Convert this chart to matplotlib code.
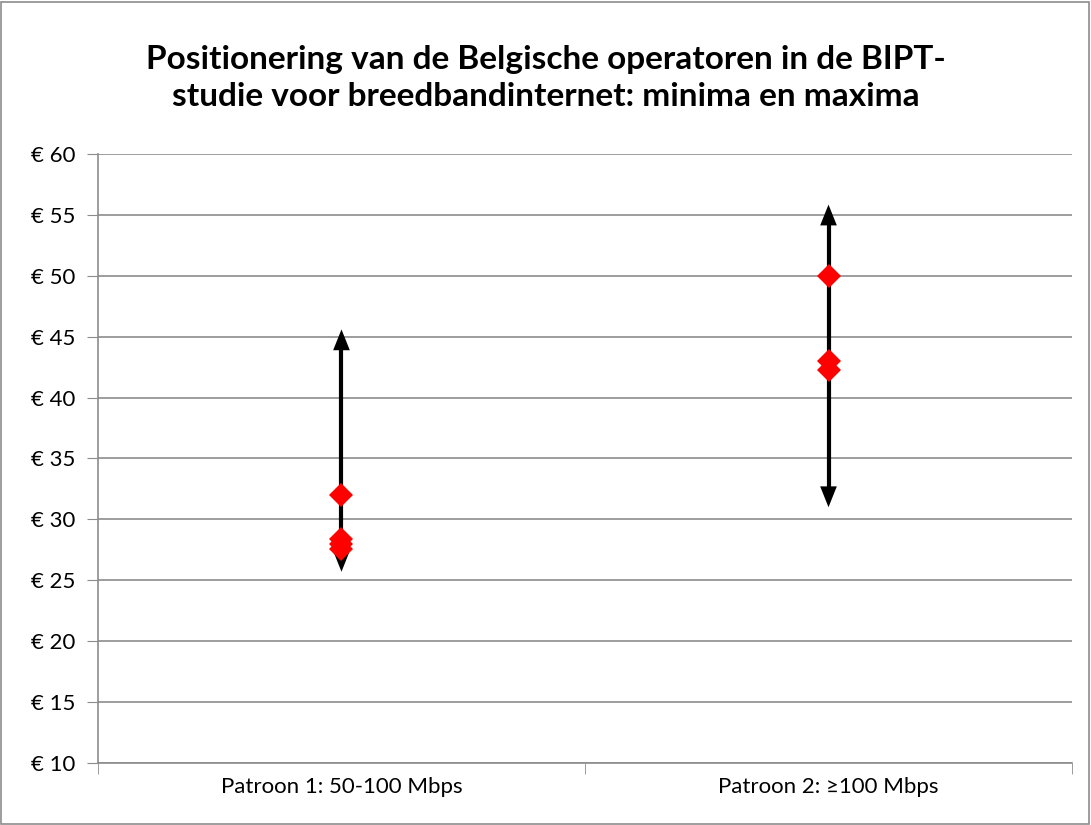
import matplotlib.pyplot as plt

plt.rcParams['font.family'] = ['Lato', 'DejaVu Sans']

categories = ['Patroon 1: 50-100 Mbps', 'Patroon 2: ≥100 Mbps']
minima = [25.7, 31.0]
maxima = [45.6, 55.85]
operators = [[32.0, 28.4, 28.0, 27.6], [50.0, 43.0, 42.3]]
yticks = [10, 15, 20, 25, 30, 35, 40, 45, 50, 55, 60]

fig = plt.figure(figsize=(10.91, 8.25), dpi=100)
ax = fig.add_axes([0.0898, 0.0752, 0.8928, 0.7381])

grey = '#8c8c8c'
for i in range(len(categories)):
    # shaft
    ax.plot([i, i], [minima[i] + 0.8, maxima[i] - 0.8], color='black', lw=3,
            solid_capstyle='butt', zorder=3)
    # filled heads at both ends
    ax.annotate('', xy=(i, maxima[i]), xytext=(i, minima[i]),
                arrowprops=dict(arrowstyle='<|-|>,head_length=1.5,head_width=0.6',
                                color='black', lw=0, shrinkA=0, shrinkB=0),
                zorder=3)
    ax.plot([i] * len(operators[i]), operators[i], 'D', color='red',
            markersize=12.5, markeredgewidth=0, zorder=4)

ax.set_xlim(-0.5, 1.5)
ax.set_ylim(10, 60)
ax.set_yticks(yticks)
ax.set_yticklabels(['€ %d' % v for v in yticks], fontsize=16)
ax.set_xticks([0, 1])
ax.set_xticklabels(categories, fontsize=16)
ax.set_xticks([-0.5, 0.5, 1.5], minor=True)
ax.tick_params(axis='x', which='major', length=0, pad=10)
ax.tick_params(axis='x', which='minor', length=8, color=grey)
ax.tick_params(axis='y', length=8, color=grey, pad=8)
ax.grid(axis='y', color=grey, lw=1.2)
ax.set_axisbelow(True)
for s in ['top', 'right']:
    ax.spines[s].set_visible(False)
for s in ['left', 'bottom']:
    ax.spines[s].set_color(grey)
    ax.spines[s].set_linewidth(1.2)

fig.text(0.5, 0.905, 'Positionering van de Belgische operatoren in de BIPT-\nstudie voor breedbandinternet: minima en maxima',
         ha='center', va='center', fontsize=24, fontweight='bold', linespacing=1.33)

fig.patches.append(plt.Rectangle((0.001, 0.001), 0.997, 0.997, transform=fig.transFigure,
                                 fill=False, edgecolor=grey, lw=1.2))

fig.savefig('out.png', dpi=100)
